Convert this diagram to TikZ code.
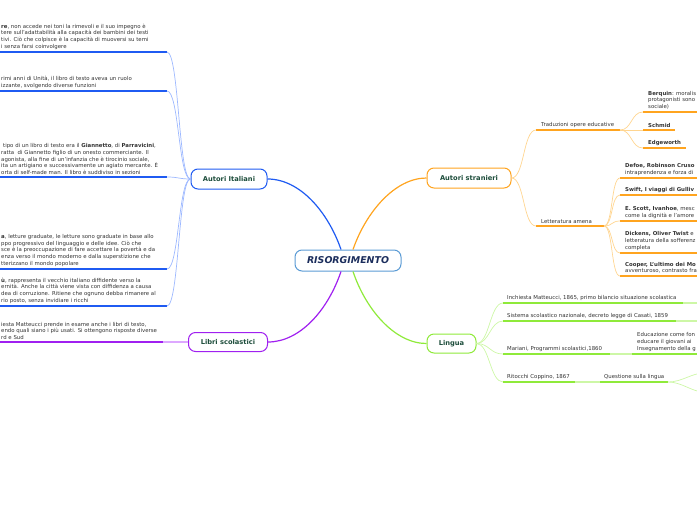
\documentclass[tikz,border=0pt]{standalone}
\usepackage{fontspec}
\setmainfont{DejaVu Sans}
\usetikzlibrary{positioning}
\definecolor{bluedk}{HTML}{1F5BF2}
\definecolor{bluelt}{HTML}{9DB8FF}
\definecolor{orgdk}{HTML}{FFA41F}
\definecolor{orglt}{HTML}{FFD590}
\definecolor{violdk}{HTML}{A020F0}
\definecolor{viollt}{HTML}{DDA8FF}
\definecolor{limedk}{HTML}{8FEA3A}
\definecolor{limelt}{HTML}{CDF7A6}
\definecolor{cenblue}{HTML}{5B9BD5}
\definecolor{cennavy}{HTML}{1B2D5C}
\definecolor{topicgrn}{HTML}{1D4D3B}
\definecolor{leafgray}{HTML}{333333}
\newcommand\Tiny{\fontsize{5.4}{6.6}\selectfont}

\begin{document}
\begin{tikzpicture}[x=1pt, y=-1pt,
  cen/.style={draw=cenblue, line width=1pt, rounded corners=7pt, fill=white, minimum width=106pt, minimum height=21pt, inner sep=0pt, text=cennavy, font=\fontsize{9.4}{10}\selectfont\bfseries\itshape},
  topic/.style={draw=#1, line width=1pt, rounded corners=7pt, fill=white, minimum height=20pt, inner sep=0pt, text=topicgrn, font=\fontsize{6.7}{7.5}\selectfont\bfseries},
  leaf/.style={anchor=south west, inner sep=0pt, align=left, text=leafgray, font=\Tiny},
  uline/.style={line width=2pt, color=#1},
  twig/.style={line width=0.7pt, color=#1},
  stem/.style={line width=1.2pt, color=#1}]
\useasboundingbox (0,0) rectangle (697,520);
\clip (0,0) rectangle (697,520);

% main topics
\node[cen] (ris) at (348,260.5) {RISORGIMENTO};
\node[topic=bluedk, minimum width=76pt] (ita) at (229,179) {Autori Italiani};
\node[topic=violdk, minimum width=79pt, minimum height=19pt] (lib) at (228,342) {Libri scolastici};
\node[topic=orgdk, minimum width=84pt] (str) at (469,178) {Autori stranieri};
\node[topic=limedk, minimum width=49pt, minimum height=19pt] (lin) at (451.5,343.5) {Lingua};

\draw[stem=bluedk] ([xshift=-7pt]ris.north) .. controls (328,212) and (300,179) .. (ita.east);
\draw[stem=orgdk] ([xshift=5pt]ris.north) .. controls (366,212) and (395,178) .. (str.west);
\draw[stem=violdk] ([xshift=-7pt]ris.south) .. controls (328,310) and (300,342) .. (lib.east);
\draw[stem=limedk] ([xshift=5pt]ris.south) .. controls (366,310) and (395,343.5) .. (lin.west);

% Autori Italiani
\foreach \n/\y in {1/52,2/91,3/177,4/269,5/306}{
  \coordinate (i\n a) at (0,\y);
  \coordinate (i\n b) at (167,\y);
  \draw[uline=bluedk] (i\n a) -- (i\n b);
  \draw[twig=bluelt] (ita.west) .. controls +(-12,0) and +(12,0) .. (i\n b);
}
\node[leaf] (i1t) at (1,49.5) {\textbf{re}, non accede nei toni la rimevoli e il suo impegno è\\tere sull'adattabilità alla capacità dei bambini dei testi\\tivi. Ciò che colpisce è la capacità di muoversi su temi\\i senza farsi coinvolgere};
\node[leaf] (i2t) at (1,88.5) {rimi anni di Unità, il libro di testo aveva un ruolo\\izzante, svolgendo diverse funzioni};
\node[leaf] (i3t) at (1,174.5) {\hspace{2pt}tipo di un libro di testo era il \textbf{Giannetto}, di \textbf{Parravicini},\\ratta\ \ di Giannetto figlio di un onesto commerciante. Il\\agonista, alla fine di un'infanzia che è tirocinio sociale,\\ita un artigiano e successivamente un agiato mercante. È\\orta di self-made man. Il libro è suddiviso in sezioni};
\node[leaf] (i4t) at (1,266.5) {\textbf{a}, letture graduate, le letture sono graduate in base allo\\ppo progressivo del linguaggio e delle idee. Ciò che\\sce è la preoccupazione di fare accettare la povertà e da\\enza verso il mondo moderno e dalla superstizione che\\tterizzano il mondo popolare};
\node[leaf] (i5t) at (1,303.5) {\textbf{ù}, rappresenta il vecchio italiano diffidente verso la\\ernità. Anche la città viene vista con diffidenza a causa\\dea di corruzione. Ritiene che ognuno debba rimanere al\\rio posto, senza invidiare i ricchi};

% Libri scolastici
\coordinate (l1a) at (0,342);
\coordinate (l1b) at (163,342);
\draw[uline=violdk] (l1a) -- (l1b);
\draw[uline=viollt] (l1b) -- (lib.west);
\node[leaf] (l1t) at (1,339.5) {iesta Matteucci prende in esame anche i libri di testo,\\endo quali siano i più usati. Si ottengono risposte diverse\\rd e Sud};

% Autori stranieri
\coordinate (s1a) at (536,130); \coordinate (s1b) at (620,130);
\coordinate (s2a) at (536,226); \coordinate (s2b) at (604,226);
\foreach \n in {1,2}{
  \draw[uline=orgdk] (s\n a) -- (s\n b);
  \draw[twig=orglt] (str.east) .. controls +(13,0) and +(-13,0) .. (s\n a);
}
\node[leaf] (s1t) at (541,127.5) {Traduzioni opere educative};
\node[leaf] (s2t) at (541,223.5) {Letteratura amena};

\foreach \n/\y/\e in {1/112/700,2/130/675,3/148/686}{
  \coordinate (t\n a) at (643,\y);
  \coordinate (t\n b) at (\e,\y);
  \draw[uline=orgdk] (t\n a) -- (t\n b);
  \draw[twig=orglt] (s1b) .. controls +(12,0) and +(-12,0) .. (t\n a);
}
\node[leaf] (t1t) at (648,109.5) {\textbf{Berquin}: moralis\\protagonisti sono\\sociale)};
\node[leaf] (t2t) at (648,127.5) {\textbf{Schmid}};
\node[leaf] (t3t) at (648,145.5) {\textbf{Edgeworth}};

\foreach \n/\y in {1/178,2/195,3/221,4/253,5/276}{
  \coordinate (a\n a) at (620,\y);
  \coordinate (a\n b) at (700,\y);
  \draw[uline=orgdk] (a\n a) -- (a\n b);
  \draw[twig=orglt] (s2b) .. controls +(9,0) and +(-9,0) .. (a\n a);
}
\node[leaf] (a1t) at (625,175.5) {\textbf{Defoe, Robinson Cruso}\\intraprendenza e forza di};
\node[leaf] (a2t) at (625,192.5) {\textbf{Swift, I viaggi di Gulliv}};
\node[leaf] (a3t) at (625,218.5) {\textbf{E. Scott, Ivanhoe}, mesc\\come la dignità e l'amore};
\node[leaf] (a4t) at (625,250.5) {\textbf{Dickens, Oliver Twist} e\\letteratura della sofferenz\\completa};
\node[leaf] (a5t) at (625,273.5) {\textbf{Cooper, L'ultimo dei Mo}\\avventuroso, contrasto fra};

% Lingua
\foreach \n/\y in {1/303,2/321,3/354,4/382}{
  \coordinate (g\n a) at (503,\y);
  \draw[twig=limelt] (lin.east) .. controls +(13,0) and +(-13,0) .. (g\n a);
}
\coordinate (g1b) at (683,303); \coordinate (g1c) at (700,303);
\coordinate (g2b) at (676,321); \coordinate (g2c) at (700,321);
\coordinate (g3b) at (610,354); \coordinate (g3c) at (632,354); \coordinate (g3d) at (700,354);
\coordinate (g4b) at (575,382); \coordinate (g4c) at (600,382); \coordinate (g4d) at (668,382);
\draw[uline=limedk] (g1a) -- (g1b); \draw[uline=limelt] (g1b) -- (g1c);
\draw[uline=limedk] (g2a) -- (g2b); \draw[uline=limelt] (g2b) -- (g2c);
\draw[uline=limedk] (g3a) -- (g3b); \draw[uline=limelt] (g3b) -- (g3c); \draw[uline=limedk] (g3c) -- (g3d);
\draw[uline=limedk] (g4a) -- (g4b); \draw[uline=limelt] (g4b) -- (g4c); \draw[uline=limedk] (g4c) -- (g4d);
\coordinate (q1) at (704,373); \coordinate (q2) at (704,392);
\draw[twig=limelt] (g4d) .. controls +(14,0) and +(-12,0) .. (q1);
\draw[twig=limelt] (g4d) .. controls +(14,0) and +(-12,0) .. (q2);
\node[leaf] (g1t) at (507,300.5) {Inchiesta Matteucci, 1865, primo bilancio situazione scolastica};
\node[leaf] (g2t) at (507,318.5) {Sistema scolastico nazionale, decreto legge di Casati, 1859};
\node[leaf] (g3t) at (507,351.5) {Mariani, Programmi scolastici,1860};
\node[leaf] (g3u) at (637,351.5) {Educazione come fon\\educare il giovani ai\\Insegnamento della g};
\node[leaf] (g4t) at (507,379.5) {Ritocchi Coppino, 1867};
\node[leaf] (g4u) at (604,379.5) {Questione sulla lingua};
\end{tikzpicture}
\end{document}
